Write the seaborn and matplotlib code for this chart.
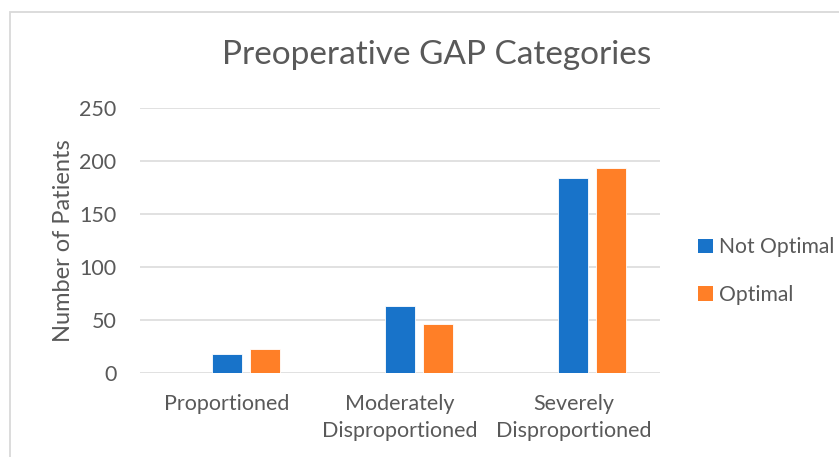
import seaborn as sns
import pandas as pd
import matplotlib.pyplot as plt
from matplotlib.patches import Patch, Rectangle

# Values
categories = ["Proportioned", "Moderately\nDisproportioned", "Severely\nDisproportioned"]
not_optimal = [18, 63, 184]
optimal = [23, 46, 193]
series = ["Not Optimal", "Optimal"]
colors = ["#1873C9", "#FF7F27"]

data = pd.DataFrame({
    "category": categories * 2,
    "series": [series[0]] * 3 + [series[1]] * 3,
    "patients": not_optimal + optimal,
})

sns.set_style("white")
plt.rcParams["font.family"] = ["Lato", "DejaVu Sans"]
grey = "#595959"

fig = plt.figure(figsize=(8.39, 4.57), dpi=100)
ax = fig.add_axes([140 / 839, 1 - 373 / 457, 520 / 839, 265 / 457])

# empty first slot, like the original Excel chart
hue_order = ["(blank)"] + series
sns.barplot(data=data, x="category", y="patients", hue="series", hue_order=hue_order,
            palette=["white"] + colors, saturation=1, width=0.656, gap=0.21, ax=ax,
            edgecolor="white", linewidth=0.6, legend=False, zorder=3)

ax.set_ylim(0, 250)
ax.set_yticks(range(0, 251, 50))
ax.yaxis.grid(True, color="#D9D9D9", linewidth=1.1, zorder=0)
ax.set_axisbelow(True)
for s in ax.spines.values():
    s.set_visible(False)
ax.tick_params(axis="both", length=0, labelsize=15.5, labelcolor=grey)
ax.tick_params(axis="y", pad=17)
ax.tick_params(axis="x", pad=15)
for t in ax.get_xticklabels():
    t.set_linespacing(1.45)
ax.set_xlabel("")
ax.set_ylabel("Number of Patients", fontsize=17, color=grey, labelpad=4)

fig.text(437 / 839, 1 - 55 / 457, "Preoperative GAP Categories", ha="center", va="center",
         fontsize=24, color=grey)

handles = [Patch(facecolor=c, edgecolor="none") for c in colors]
fig.legend(handles, series, loc="center left", bbox_to_anchor=(698 / 839, 1 - 271 / 457),
           frameon=False, fontsize=15.2, labelcolor=grey, handlelength=0.7,
           handleheight=0.7, handletextpad=0.3, labelspacing=1.3, borderpad=0,
           borderaxespad=0)

# chart area border
fig.add_artist(Rectangle((10 / 839, -0.1), 1.2, 1.1 - 12 / 457, transform=fig.transFigure,
                         fill=False, edgecolor="#D9D9D9", linewidth=1.3))

fig.savefig("out.png", dpi=100, facecolor="white")
